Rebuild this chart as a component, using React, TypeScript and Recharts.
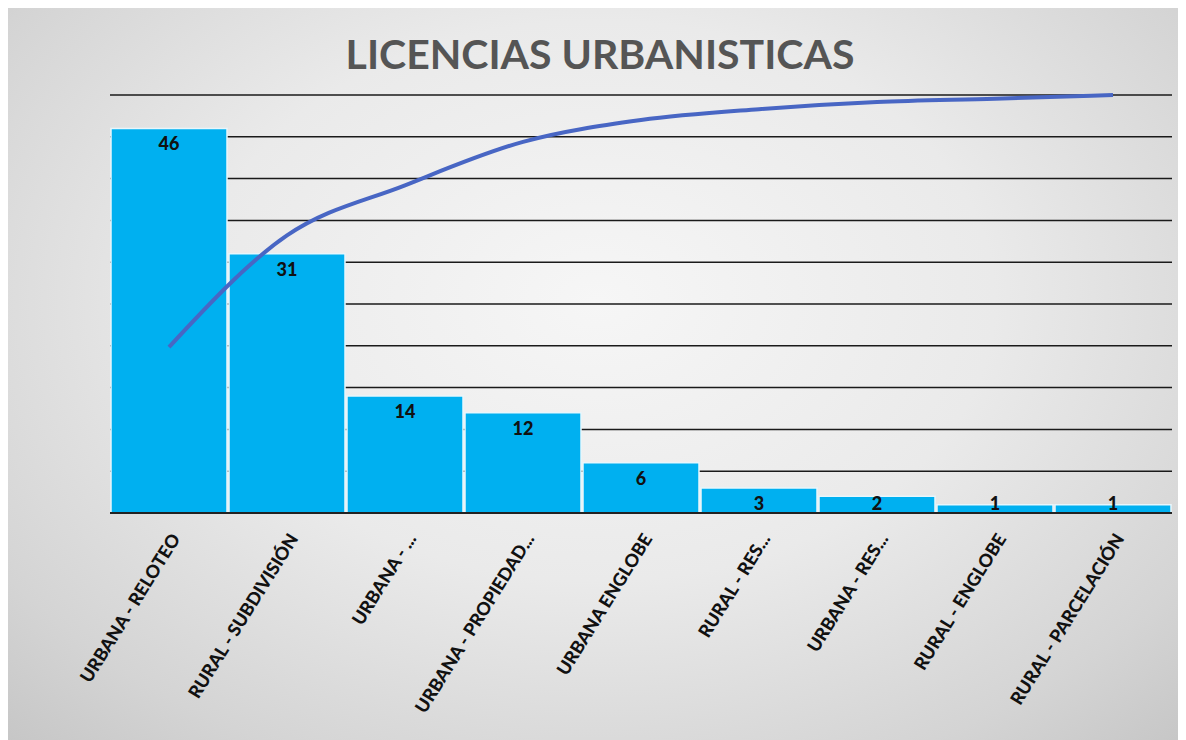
import React from "react";
import {
  ComposedChart,
  Bar,
  Line,
  XAxis,
  YAxis,
  CartesianGrid,
  LabelList,
} from "recharts";

const categories = [
  "URBANA - RELOTEO",
  "RURAL - SUBDIVISIÓN",
  "URBANA - ...",
  "URBANA - PROPIEDAD...",
  "URBANA ENGLOBE",
  "RURAL - RES...",
  "URBANA - RES...",
  "RURAL - ENGLOBE",
  "RURAL - PARCELACIÓN",
];
const counts = [46, 31, 14, 12, 6, 3, 2, 1, 1];
// cumulative share (%) as drawn by the pareto line
const cumulative = [39.7, 66.4, 78.4, 88.8, 94.0, 96.6, 98.3, 99.1, 100];
const countTicks = [0, 5, 10, 15, 20, 25, 30, 35, 40, 45, 50];

const data = categories.map((name, i) => ({
  name,
  count: counts[i],
  cum: cumulative[i],
}));

const FONT = "Lato, 'Open Sans', sans-serif";

function AxisTick(props: any) {
  const { x, y, payload } = props;
  return (
    <g transform={`translate(${x + 6},${y + 14})`}>
      <text
        transform="rotate(-58)"
        textAnchor="end"
        dominantBaseline="central"
        fontFamily={FONT}
        fontWeight={900}
        fontSize={18}
        fill="#111"
      >
        {payload.value}
      </text>
    </g>
  );
}

function BarValue(props: any) {
  const { x, y, width, height, value } = props;
  const cy = Math.min(y + 15, y + height - 10);
  return (
    <text
      x={x + width / 2}
      y={cy}
      textAnchor="middle"
      dominantBaseline="central"
      fontFamily={FONT}
      fontWeight={900}
      fontSize={18}
      fill="#111"
    >
      {value}
    </text>
  );
}

export default function App() {
  return (
    <div
      style={{
        position: "relative",
        width: 1178,
        height: 732,
        background:
          "radial-gradient(ellipse 75% 85% at 50% 40%, #f6f6f6 0%, #eaeaea 45%, #d4d4d4 80%, #c4c4c4 100%)",
      }}
    >
      <div
        style={{
          position: "absolute",
          top: 21,
          left: 0,
          width: "100%",
          textAlign: "center",
          fontFamily: FONT,
          fontWeight: 700,
          fontSize: 41,
          color: "#555",
          paddingLeft: 6,
          boxSizing: "border-box",
        }}
      >
        LICENCIAS URBANISTICAS
      </div>
      <ComposedChart
        width={1178}
        height={732}
        data={data}
        margin={{ top: 87, right: 14, bottom: 0, left: 102 }}
        barCategoryGap={1}
        style={{ position: "absolute", top: 0, left: 0 }}
      >
        <CartesianGrid
          vertical={false}
          stroke="#1a1a1a"
          strokeWidth={1.5}
          yAxisId="count"
        />
        <XAxis
          dataKey="name"
          interval={0}
          height={227}
          tick={<AxisTick />}
          tickLine={false}
          axisLine={{ stroke: "#222", strokeWidth: 2 }}
        />
        <YAxis
          yAxisId="count"
          domain={[0, 50]}
          ticks={countTicks}
          hide
        />
        <YAxis yAxisId="pct" orientation="right" domain={[0, 100]} hide />
        <Bar
          yAxisId="count"
          dataKey="count"
          fill="#00B0F0"
          stroke="#e8f6fc"
          strokeWidth={1.5}
          isAnimationActive={false}
        >
          <LabelList dataKey="count" content={<BarValue />} />
        </Bar>
        <Line
          yAxisId="pct"
          dataKey="cum"
          type="monotone"
          stroke="#4866C4"
          strokeWidth={4}
          dot={false}
          activeDot={false}
          isAnimationActive={false}
        />
      </ComposedChart>
    </div>
  );
}
